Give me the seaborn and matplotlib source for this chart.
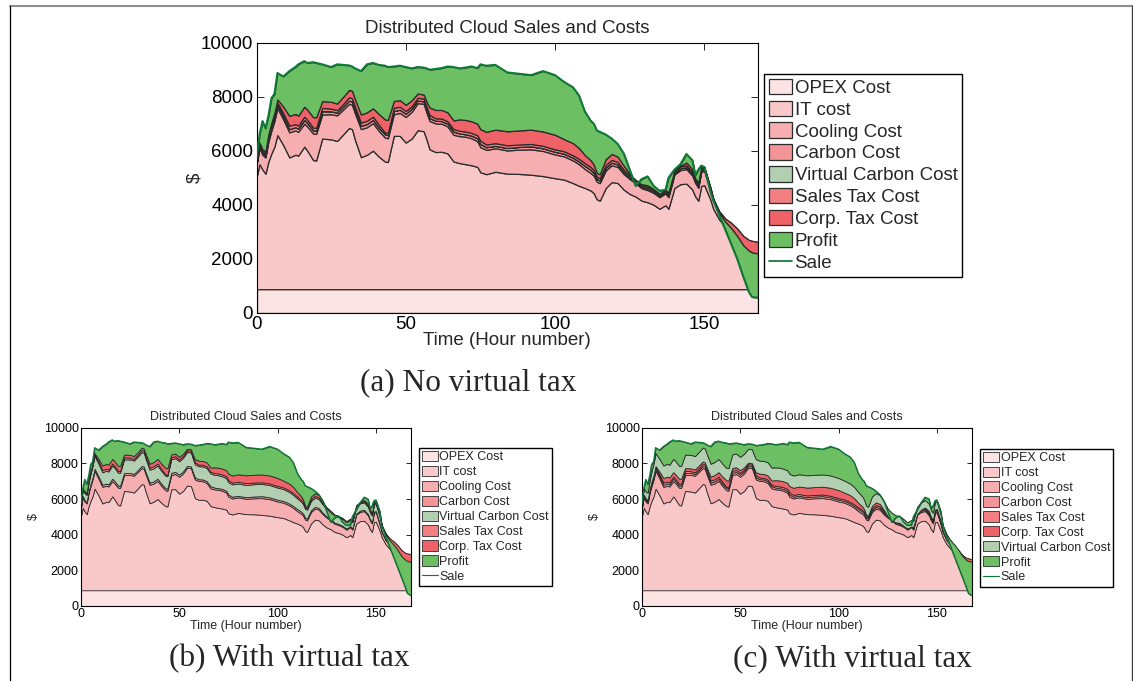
import numpy as np
import matplotlib
matplotlib.use("Agg")
import matplotlib.pyplot as plt
import seaborn as sns
from matplotlib.patches import Patch
from matplotlib.lines import Line2D

sns.set_style("ticks")
plt.rcParams['font.family'] = ['Liberation Sans', 'DejaVu Sans']

HOURS = [0, 1, 2, 3, 4, 5, 6, 7, 9, 11,
         13, 14, 16, 17, 19, 20, 22, 25, 27, 29,
         31, 32, 33, 35, 37, 39, 41, 43, 44, 46,
         48, 50, 52, 54, 56, 57, 58, 60, 62, 64,
         66, 68, 70, 72, 74, 75, 77, 80, 84, 88,
         92, 96, 100, 103, 106, 108, 110, 112, 113, 114,
         115, 117, 119, 121, 123, 125, 127, 129, 131, 133,
         135, 137, 138, 140, 142, 144, 146, 147, 148, 149,
         150, 152, 153, 155, 157, 159, 161, 163, 165, 166,
         168]

OPEX = 870  # flat OPEX cost

# upper edge of the IT cost layer ($)
IT_TOP = [5000, 5500, 5300, 5150, 5600, 5900, 6150, 6580, 6200, 5750,
          5850, 5820, 6150, 6000, 5650, 5640, 6450, 6420, 6360, 6600,
          6840, 6800, 6400, 5760, 5850, 6000, 5780, 5600, 5580, 6550,
          6550, 6300, 6450, 6760, 6720, 6400, 6050, 5950, 5960, 5900,
          5600, 5540, 5500, 5460, 5400, 5200, 5130, 5220, 5150, 5140,
          5110, 5060, 4980, 4930, 4800, 4700, 4620, 4520, 4420, 4200,
          4150, 4620, 4840, 4800, 4560, 4400, 4300, 4150, 4090, 4000,
          3850, 3980, 3850, 4620, 4760, 4780, 4560, 4300, 4150, 4700,
          4720, 4200, 3850, 3450, 3200, 3050, 2850, 2600, 2450, 2420,
          2380]

COOLING = [450, 600, 550, 600, 750, 850, 950, 1000, 950, 930,
           900, 880, 850, 900, 980, 990, 890, 930, 950, 920,
           900, 900, 980, 1040, 1020, 1020, 950, 890, 880, 800,
           850, 950, 990, 1000, 1020, 1000, 1050, 1060, 1040, 1000,
           990, 1000, 1020, 1000, 950, 930, 900, 870, 860, 900,
           940, 930, 880, 860, 840, 800, 700, 650, 650, 650,
           650, 650, 620, 600, 580, 550, 500, 460, 450, 440,
           430, 440, 430, 500, 520, 540, 520, 500, 480, 530,
           530, 350, 280, 230, 210, 200, 190, 180, 170, 170,
           170]

CARBON = [60, 70, 70, 80, 90, 100, 110, 120, 120, 120,
          120, 120, 140, 130, 120, 120, 125, 110, 100, 110,
          120, 120, 120, 120, 120, 120, 120, 120, 120, 120,
          120, 120, 120, 100, 90, 100, 110, 100, 100, 100,
          120, 100, 90, 100, 110, 120, 100, 90, 90, 100,
          110, 100, 100, 100, 100, 100, 120, 120, 110, 100,
          100, 100, 100, 90, 80, 70, 60, 60, 60, 60,
          60, 60, 60, 60, 70, 70, 70, 60, 60, 70,
          70, 50, 40, 30, 30, 30, 30, 25, 25, 25,
          25]

SALES_TAX = [60, 70, 70, 70, 80, 90, 90, 90, 110, 130,
             110, 110, 120, 110, 100, 100, 120, 100, 90, 100,
             120, 120, 120, 120, 120, 120, 110, 70, 70, 120,
             110, 100, 90, 100, 100, 110, 110, 90, 90, 90,
             90, 100, 100, 100, 110, 120, 100, 100, 100, 90,
             90, 90, 90, 90, 90, 100, 100, 100, 100, 80,
             80, 100, 100, 90, 80, 70, 60, 60, 60, 60,
             60, 60, 60, 70, 70, 70, 70, 70, 60, 70,
             70, 60, 50, 50, 50, 50, 50, 45, 45, 45,
             45]

# (a) no virtual tax
CORP_TAX = [50, 60, 60, 80, 100, 100, 110, 110, 250, 360,
            380, 370, 370, 380, 390, 390, 250, 250, 245, 260,
            270, 280, 290, 300, 310, 310, 400, 480, 490, 250,
            240, 230, 220, 160, 150, 200, 280, 310, 320, 330,
            320, 420, 430, 430, 430, 430, 470, 500, 520, 520,
            530, 530, 540, 450, 450, 400, 300, 250, 200, 150,
            150, 220, 220, 200, 150, 60, -50, 30, 60, 20,
            10, 0, 60, 10, 20, 100, 100, 40, 80, 20,
            0, -40, 0, -60, -120, -200, -280, -350, -400, -430,
            -430]

SALE = [5700, 6600, 7100, 6830, 7300, 7950, 8100, 8880, 8750, 8950,
        9100, 9200, 9320, 9250, 9280, 9250, 9200, 9100, 9200, 9180,
        9160, 9120, 9050, 8950, 9200, 9250, 9180, 9150, 9100, 9120,
        9150, 9100, 9050, 9100, 9080, 9050, 9000, 9030, 9060, 9120,
        9100, 9050, 9080, 9120, 9060, 9200, 9150, 9180, 8900, 8850,
        8800, 8950, 8800, 8550, 8350, 8050, 7450, 7100, 7000, 6750,
        6700, 6600, 6450, 6250, 5900, 5300, 4700, 4950, 5050, 4700,
        4520, 4550, 5000, 5300, 5500, 5880, 5650, 5100, 5300, 5450,
        5400, 4500, 4160, 3620, 3080, 2540, 2000, 1350, 750, 580,
        560]

# (b), (c) with virtual tax
VIRTUAL_CARBON = [250, 350, 400, 400, 500, 580, 650, 720, 720, 700,
                  720, 720, 740, 740, 720, 720, 760, 760, 750, 760,
                  780, 780, 760, 720, 730, 740, 720, 700, 700, 760,
                  770, 750, 760, 780, 780, 760, 740, 730, 730, 740,
                  720, 720, 720, 710, 700, 690, 690, 690, 690, 690,
                  690, 690, 680, 670, 650, 630, 600, 560, 540, 500,
                  500, 520, 520, 500, 470, 430, 410, 390, 380, 370,
                  350, 360, 350, 400, 410, 420, 410, 390, 380, 400,
                  400, 380, 300, 300, 300, 290, 290, 280, 280, 280,
                  280]

CORP_TAX_VT = [-30, 0, 40, 50, 40, 60, 40, 60, 150, 250,
               280, 270, 250, 260, 290, 290, 150, 160, 160, 150,
               130, 120, 160, 220, 240, 250, 300, 370, 380, 160,
               150, 150, 130, 80, 80, 120, 180, 220, 220, 230,
               240, 320, 330, 330, 340, 360, 400, 420, 440, 440,
               440, 450, 450, 380, 380, 340, 250, 200, 150, 100,
               80, 150, 150, 140, 100, -60, -100, -40, 0, -60,
               -60, -80, 30, -80, -10, 60, 100, 50, 100, 40,
               50, 60, 0, -60, -120, -200, -280, -350, -400, -430,
               -430]

SALE_VT = SALE[:72] + [5000, 5400, 5800, 6100, 6000, 5500, 5600, 5900,
                       5950, 5300, 4500, 3880, 3300, 2730, 2160, 1590,
                       1010, 700, 560]

C_OPEX = '#FDE4E4'
C_IT = '#F9C9CA'
C_COOL = '#F6AEB0'
C_CARB = '#F39496'
C_VIRT = '#B2CFB2'
C_STAX = '#F27F81'
C_CTAX = '#EF6368'
C_PROFIT = '#6CBF62'
C_SALE = '#0E7A38'
EDGE = '#2a2a2a'

n = len(HOURS)
opex = [OPEX] * n
it_cost = list(np.array(IT_TOP) - OPEX)
no_virtual = [0] * n

layers_a = [('OPEX Cost', opex, C_OPEX), ('IT cost', it_cost, C_IT),
            ('Cooling Cost', COOLING, C_COOL), ('Carbon Cost', CARBON, C_CARB),
            ('Virtual Carbon Cost', no_virtual, C_VIRT),
            ('Sales Tax Cost', SALES_TAX, C_STAX), ('Corp. Tax Cost', CORP_TAX, C_CTAX)]
layers_b = [('OPEX Cost', opex, C_OPEX), ('IT cost', it_cost, C_IT),
            ('Cooling Cost', COOLING, C_COOL), ('Carbon Cost', CARBON, C_CARB),
            ('Virtual Carbon Cost', VIRTUAL_CARBON, C_VIRT),
            ('Sales Tax Cost', SALES_TAX, C_STAX), ('Corp. Tax Cost', CORP_TAX_VT, C_CTAX)]
layers_c = [('OPEX Cost', opex, C_OPEX), ('IT cost', it_cost, C_IT),
            ('Cooling Cost', COOLING, C_COOL), ('Carbon Cost', CARBON, C_CARB),
            ('Sales Tax Cost', SALES_TAX, C_STAX), ('Corp. Tax Cost', CORP_TAX_VT, C_CTAX),
            ('Virtual Carbon Cost', VIRTUAL_CARBON, C_VIRT)]

W, H = 1133, 681
fig = plt.figure(figsize=(W / 100, H / 100), dpi=100)


def draw_panel(rect, layers, sale, fs, lw, leg_xy, big):
    ax = fig.add_axes(rect)
    x = np.array(HOURS, dtype=float)
    base = np.zeros(n)
    handles = []
    for label, band, color in layers:
        top = base + np.array(band, dtype=float)
        ax.fill_between(x, base, top, facecolor=color, edgecolor=EDGE, linewidth=lw, zorder=2)
        handles.append(Patch(facecolor=color, edgecolor=EDGE, linewidth=lw))
        base = top
    # profit is whatever is left between the costs and the sale line
    ax.fill_between(x, base, sale, facecolor=C_PROFIT, edgecolor=EDGE, linewidth=lw, zorder=2)
    sns.lineplot(x=x, y=np.array(sale, dtype=float), color=C_SALE, linewidth=lw * 1.6, ax=ax, zorder=3)
    handles += [Patch(facecolor=C_PROFIT, edgecolor=EDGE, linewidth=lw),
                Line2D([], [], color=C_SALE, linewidth=lw * 1.4)]
    labels = [l[0] for l in layers] + ['Profit', 'Sale']

    ax.set_xlim(0, 168)
    ax.set_ylim(0, 10000)
    ax.set_xticks([0, 50, 100, 150])
    ax.set_yticks(range(0, 10001, 2000))
    ax.tick_params(direction='in', top=True, right=True, length=5 if big else 3.5,
                   width=0.6, labelsize=fs, pad=2.5 if big else 1.5, colors='black')
    for s in ax.spines.values():
        s.set_color('black')
        s.set_linewidth(0.8)
    ax.set_title('Distributed Cloud Sales and Costs', fontsize=fs, pad=7 if big else 5.5)
    ax.set_xlabel('Time (Hour number)', fontsize=fs, labelpad=-1 if big else 0)
    ax.set_ylabel(r'\$', fontsize=fs, labelpad=-2 if big else 3)

    leg = ax.legend(handles, labels, loc='upper left', bbox_to_anchor=leg_xy,
                    bbox_transform=fig.transFigure, frameon=True, fancybox=False,
                    framealpha=1, edgecolor='black', borderaxespad=0, borderpad=0.25,
                    labelspacing=0.2, handlelength=1.26, handleheight=0.88,
                    handletextpad=0.12, fontsize=fs)
    leg.get_frame().set_linewidth(1.0)
    return ax


draw_panel([256.5 / W, 1 - 312.7 / H, 501.5 / W, 270 / H], layers_a, SALE,
           13.5, 0.9, (764 / W, 1 - 74 / H), True)
draw_panel([80.8 / W, 1 - 605.8 / H, 330.5 / W, 178 / H], layers_b, SALE_VT,
           9, 0.6, (419 / W, 1 - 447.7 / H), False)
draw_panel([641.8 / W, 1 - 605.8 / H, 330.5 / W, 178 / H], layers_c, SALE_VT,
           9, 0.6, (980.3 / W, 1 - 448.5 / H), False)

cap = dict(ha='center', va='center', fontsize=22.5, family=['Liberation Serif', 'DejaVu Serif'])
fig.text(468 / W, 1 - 383 / H, '(a) No virtual tax', **cap)
fig.text(289 / W, 1 - 659 / H, '(b) With virtual tax', **cap)
fig.text(852 / W, 1 - 659 / H, '(c) With virtual tax', **cap)

# page frame around the figure
fig.add_artist(Line2D([9.5 / W, 1], [1 - 5.7 / H] * 2, transform=fig.transFigure,
                      color='#8c8c8c', linewidth=1.5))
fig.add_artist(Line2D([9.5 / W] * 2, [0, 1 - 5.7 / H], transform=fig.transFigure,
                      color='black', linewidth=0.9))
fig.add_artist(Line2D([1131.5 / W] * 2, [0, 1 - 5.7 / H], transform=fig.transFigure,
                      color='#333333', linewidth=0.9))

fig.savefig('out.png', dpi=100)
